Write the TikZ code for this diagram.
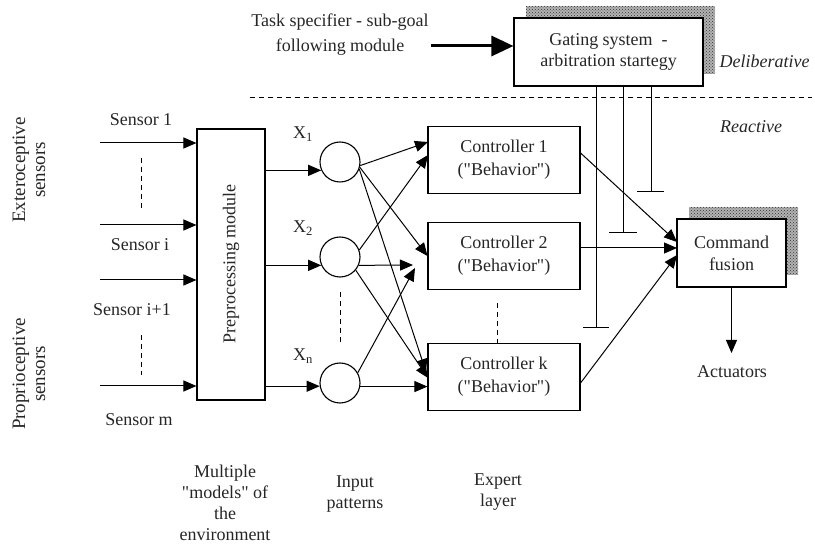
\documentclass[tikz,border=0pt]{standalone}
\usepackage{fontspec}
\setmainfont{Liberation Serif}[Ligatures=TeXOff]
\usetikzlibrary{arrows.meta,patterns,calc}
\begin{document}
\begin{tikzpicture}[x=1pt,y=-1pt,
  every node/.style={font=\fontsize{18}{22}\selectfont, text=black!85},
  box/.style={draw, line width=1.1pt, fill=white, inner sep=0pt, align=center},
  ctl/.style={box, minimum width=152pt, minimum height=67pt, font=\fontsize{18}{23}\selectfont},
  shadowbox/.style={preaction={fill=black!30}, pattern=crosshatch dots, pattern color=black!80, draw=none, inner sep=0pt},
  circ/.style={draw, circle, line width=1.1pt, minimum size=40pt, inner sep=0pt},
  ln/.style={line width=1pt},
  arr/.style={ln, -{Triangle[length=13pt,width=11pt]}},
  dsh/.style={line width=1pt, dash pattern=on 5pt off 4pt},
  lbl/.style={align=center, inner sep=1pt},
]
\useasboundingbox (0,0) rectangle (815,545);

% --- deliberative layer
\node[lbl, font=\fontsize{18}{25}\selectfont] (task) at (340,35) {Task specifier - sub-goal\\following module};
\coordinate (taskarr) at (431,46);
\node[shadowbox, minimum width=189pt, minimum height=68pt] (gsh) at (620.5,40) {};
\node[box, minimum width=189pt, minimum height=68pt, font=\fontsize{18}{21}\selectfont] (gate) at (608.5,52) {Gating system\ \ -\\arbitration startegy};
\draw[line width=3pt, -{Triangle[length=22pt,width=20pt]}] (taskarr) -- (taskarr -| gate.west);
\node[anchor=west, font=\itshape\fontsize{18}{22}\selectfont] (delib) at (716,61) {Deliberative};
\node[font=\itshape\fontsize{18}{22}\selectfont] (react) at (751,127) {Reactive};
\coordinate (dl) at (250,98);
\coordinate (dr) at (812,98);
\draw[dsh] (dl) -- (dr);

% --- sensors and preprocessing
\node[box, fill=none, minimum width=68pt, minimum height=271pt] (pre) at (231,264.5) {};
\node[rotate=90] (pretext) at (231,264) {Preprocessing module};
\coordinate (s1) at (100,143);
\coordinate (si) at (100,225);
\coordinate (sj) at (100,280);
\coordinate (sm) at (100,386);
\draw[arr] (s1) -- (s1 -| pre.west);
\draw[arr] (si) -- (si -| pre.west);
\draw[arr] (sj) -- (sj -| pre.west);
\draw[arr] (sm) -- (sm -| pre.west);
\node (ls1) at (141,120) {Sensor 1};
\node (lsi) at (140,245) {Sensor i};
\node (lsj) at (132,310) {Sensor i+1};
\node (lsm) at (139,420) {Sensor m};
\node[rotate=90, lbl, font=\fontsize{19}{20}\selectfont] (ext) at (29,170) {Exteroceptive\\sensors};
\node[rotate=90, lbl, font=\fontsize{19}{20}\selectfont] (prop) at (29,374) {Proprioceptive\\sensors};
\coordinate (d1a) at (141,158);
\coordinate (d1b) at (141,210);
\coordinate (d2a) at (141,335);
\coordinate (d2b) at (141,375);
\draw[dsh] (d1a) -- (d1b);
\draw[dsh] (d2a) -- (d2b);

% --- input patterns
\node[circ] (c1) at (340,162) {};
\node[circ] (c2) at (340,257) {};
\node[circ] (c3) at (340,383) {};
\draw[arr] (pre.east |- c1.204) -- (c1.204);
\draw[arr] (pre.east |- c2.204) -- (c2.204);
\draw[arr] (pre.east |- c3.189) -- (c3.189);
\node (x1) at (303,134) {X\textsubscript{1}};
\node (x2) at (303,228) {X\textsubscript{2}};
\node (xn) at (303,356) {X\textsubscript{n}};
\coordinate (d3a) at (340,292);
\coordinate (d3b) at (340,343);
\draw[dsh] (d3a) -- (d3b);

% --- expert layer
\node[ctl] (ctl1) at (504,160) {Controller 1\\("Behavior")};
\node[ctl] (ctl2) at (504,256) {Controller 2\\("Behavior")};
\node[ctl] (ctlk) at (504,377) {Controller k\\("Behavior")};
\coordinate (d4a) at (497,303);
\coordinate (d4b) at (497,343);
\draw[dsh] (d4a) -- (d4b);

\coordinate (i1a) at (428,142);
\coordinate (i1b) at (428,155);
\coordinate (i2b) at (413,265);
\coordinate (i2c) at (415,268);
\coordinate (ika) at (426,372);
\coordinate (ikb) at (428,378);
\draw[arr] (c1.-10) -- (i1a);
\draw[arr] (c2.20) -- (i1b);
\draw[arr] (c1.-15) -- (ctl2.west);
\draw[arr] (c2.-24) -- (i2b);
\draw[arr] (c3.30) -- (i2c);
\draw[arr] (c1.-20) -- (ika);
\draw[arr] (c2.-40) -- (ikb);
\draw[arr] (c3.-10) -- (c3.-10 -| ctlk.west);

% --- command fusion
\node[shadowbox, minimum width=109pt, minimum height=68pt] (cfsh) at (743.5,241) {};
\node[box, minimum width=109pt, minimum height=68pt] (cf) at (731.5,253) {Command\\fusion};
\coordinate (cfa) at (677,242);
\coordinate (cfb) at (677,248);
\coordinate (cfc) at (677,255);
\draw[arr] ($(ctl1.east)+(0,-7)$) -- (cfa);
\draw[arr] (ctl2.east |- cfb) -- (cfb);
\draw[arr] ($(ctlk.east)+(0,6)$) -- (cfc);
\coordinate (actarr) at (731.5,353);
\draw[arr] (cf.south) -- (actarr);
\node (act) at (732,372) {Actuators};

% --- gating inhibition lines
\coordinate (t1) at (596,328);
\coordinate (t2) at (623,233);
\coordinate (t3) at (651,192);
\draw[ln] (gate.south -| t1) -- (t1);
\draw[ln] (gate.south -| t2) -- (t2);
\draw[ln] (gate.south -| t3) -- (t3);
\draw[ln] ($(t1)+(-13,0)$) -- ($(t1)+(13,0)$);
\draw[ln] ($(t2)+(-14,0)$) -- ($(t2)+(14,0)$);
\draw[ln] ($(t3)+(-14,0)$) -- ($(t3)+(13,0)$);

% --- bottom captions
\node[lbl, font=\fontsize{18}{21}\selectfont] (models) at (225,503) {Multiple\\"models" of\\the\\environment};
\node[lbl, font=\fontsize{18}{21}\selectfont] (inp) at (355,494) {Input\\patterns};
\node[lbl, font=\fontsize{18}{21}\selectfont] (expert) at (498,492) {Expert\\layer};
\end{tikzpicture}
\end{document}
